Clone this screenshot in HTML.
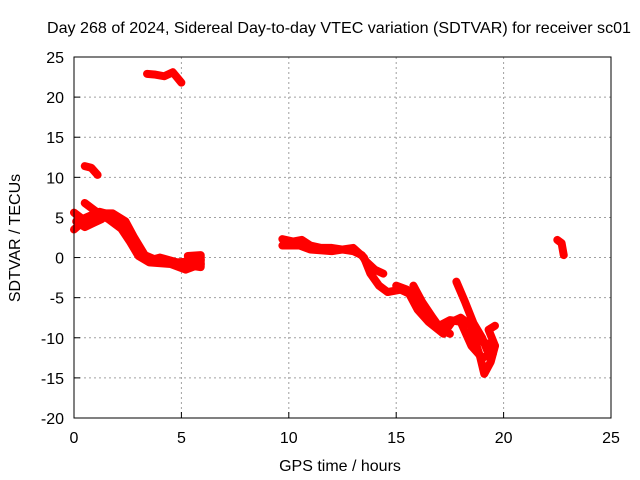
<!DOCTYPE html>
<html><head><meta charset="utf-8"><style>
body{margin:0;background:#fff}
svg{display:block;font-family:"Liberation Sans",sans-serif;font-size:16px}
</style></head><body>
<svg id="chart" width="640" height="480">
<text x="339" y="33" text-anchor="middle" textLength="584" lengthAdjust="spacingAndGlyphs">Day 268 of 2024, Sidereal Day-to-day VTEC variation (SDTVAR) for receiver sc01</text>
<text x="340" y="471" text-anchor="middle">GPS time / hours</text>
<text transform="translate(20,238) rotate(-90)" text-anchor="middle">SDTVAR / TECUs</text>
<g id="grid"></g><g id="ticks"></g><g id="data"></g>
<rect x="74" y="57" width="537" height="361" fill="none" stroke="#000"/>
</svg>
<script>
const xTicks=[0,5,10,15,20,25];
const yTicks=[-20,-15,-10,-5,0,5,10,15,20,25];
const tracks=[
[[3.4,22.9],[3.8,22.8],[4.2,22.6],[4.6,23.1],[5.0,21.8]],
[[0.5,11.4],[0.8,11.2],[1.1,10.3]],
[[0,3.5],[0.3,4.2],[0.6,4.0],[0.9,5.0],[1.2,5.7],[1.6,5.4],[2.0,5.0],[2.4,4.0],[2.8,2.0],[3.2,0.5],[3.6,-0.3],[4.0,0],[4.4,-0.3],[4.8,-0.6],[5.3,-0.5],[5.9,-0.3]],
[[0.5,6.8],[1.0,5.8],[1.6,4.8],[2.2,3.6],[2.6,2.0],[3.0,0.2],[3.5,-0.6],[4.5,-0.8],[5.2,-1.5],[5.9,-0.8]],
[[0,5.6],[0.4,4.8],[1.0,5.5],[1.8,5.5],[2.4,4.5],[2.8,2.5],[3.3,0.3],[4.0,-0.5]],
[[0.1,4.5],[0.5,3.8],[0.9,4.3],[1.3,4.8]],
[[5.3,0.2],[5.9,0.3],[5.9,-1.2],[5.4,-1.0]],
[[9.7,2.3],[10.2,2.0],[10.6,2.2],[11.0,1.5],[11.5,1.2],[12.0,1.2],[12.5,1.0],[13.0,0.8],[13.4,0.3],[13.6,-0.5],[14.0,-1.5],[14.4,-2.0]],
[[9.7,1.5],[10.5,1.5],[11.0,1.0],[12.0,0.8],[13.0,1.2],[13.5,0],[13.8,-2],[14.2,-3.5],[14.6,-4.3],[15.2,-4.0],[15.6,-4.5],[16.0,-6.5],[16.5,-8.0],[17.2,-9.5],[17.6,-8.0],[18.0,-7.5],[18.5,-8.5],[19.0,-10.5],[19.5,-11]],
[[15.0,-3.5],[15.5,-4.0],[16.0,-5.5],[16.5,-7.5],[17.0,-8.5],[17.5,-7.8],[18.0,-8.0],[18.5,-11],[19.0,-12.5],[19.5,-12]],
[[15.8,-3.5],[16.2,-5.5],[16.7,-7.5],[17.1,-9.0],[17.5,-9.5]],
[[17.8,-3],[18.2,-5.5],[18.6,-8.2],[19.0,-10.0],[19.3,-12],[19.6,-11],[19.3,-9],[19.6,-8.5]],
[[18.5,-9],[18.9,-12.3],[19.1,-14.5],[19.4,-13],[19.6,-11]],
[[22.5,2.2],[22.7,1.8],[22.8,0.3]]
];
const NS='http://www.w3.org/2000/svg';
const X=v=>74+v*537/25, Y=v=>418-(v+20)*361/45;
function mk(t,a,p){const e=document.createElementNS(NS,t);for(const k in a)e.setAttribute(k,a[k]);p.appendChild(e);return e;}
const g=document.getElementById('grid'),tk=document.getElementById('ticks'),d=document.getElementById('data');
xTicks.forEach(v=>{
 if(v>0&&v<25){const l=mk('line',{x1:X(v),x2:X(v),y1:57,y2:418,stroke:'#a0a0a0','stroke-dasharray':'2,3'},g);
 }
 mk('line',{x1:X(v),x2:X(v),y1:418,y2:412,stroke:'#000'},tk);
 const t=mk('text',{x:X(v),y:443,'text-anchor':'middle'},tk);t.textContent=v;
 
});
yTicks.forEach(v=>{
 if(v>-20&&v<25){const l=mk('line',{x1:74,x2:611,y1:Y(v),y2:Y(v),stroke:'#a0a0a0','stroke-dasharray':'2,3'},g);
 }
 mk('line',{x1:74,x2:80,y1:Y(v),y2:Y(v),stroke:'#000'},tk);
 const t=mk('text',{x:64,y:Y(v)+6,'text-anchor':'end'},tk);t.textContent=v;
 
});
tracks.forEach(tr=>{
 const p=mk('polyline',{points:tr.map(q=>X(q[0])+','+Y(q[1])).join(' '),fill:'none',stroke:'#ff0000','stroke-width':8,'stroke-linejoin':'round','stroke-linecap':'round'},d);
 
 
});
</script>
</body></html>
